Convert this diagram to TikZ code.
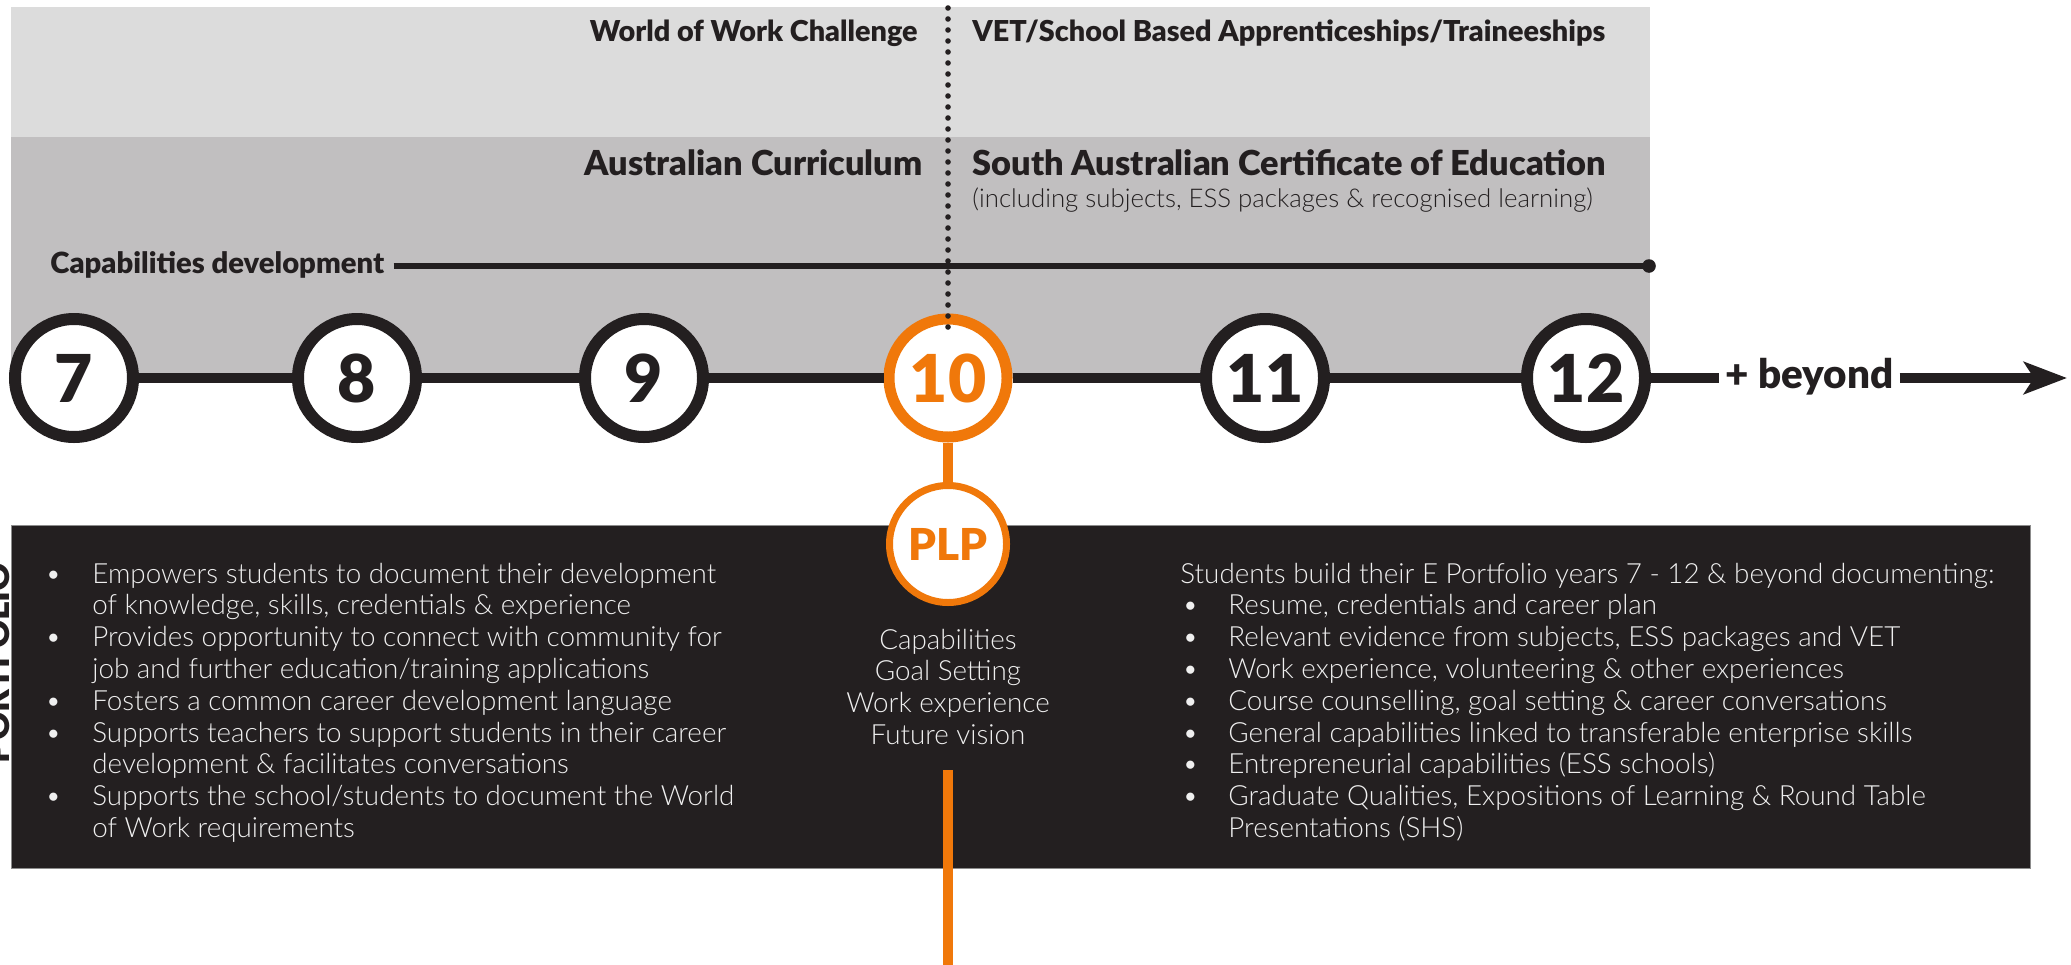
\documentclass[tikz,border=0pt]{standalone}
\usepackage{fontspec}
\setmainfont{Lato}
\newfontfamily\lightf{Lato Light}
\newfontfamily\heavyf{Lato Black}
\usetikzlibrary{arrows.meta}
\definecolor{ink}{HTML}{231F20}
\definecolor{bandlight}{HTML}{DCDCDC}
\definecolor{bandmid}{HTML}{C1BFC0}
\definecolor{orng}{HTML}{F0780A}
\definecolor{paper}{HTML}{EFEFEF}
\begin{document}
\begin{tikzpicture}[x=0.5pt,y=-0.5pt,
  yr/.style={circle, draw=ink, fill=white, line width=6pt, minimum size=59pt, inner sep=0pt,
    font=\heavyf\fontsize{33}{33}\selectfont, text=ink},
  yrhi/.style={yr, draw=orng, text=orng, line width=5.5pt},
  plpnode/.style={circle, draw=orng, fill=white, line width=3.5pt, minimum size=58.5pt, inner sep=0pt,
    font=\heavyf\fontsize{22}{22}\selectfont, text=orng},
  headA/.style={font=\heavyf\fontsize{14.4}{16}\selectfont, text=ink, inner sep=0pt},
  headB/.style={font=\heavyf\fontsize{17.2}{19}\selectfont, text=ink, inner sep=0pt},
  subtxt/.style={font=\lightf\fontsize{12.9}{14}\selectfont, text=ink, inner sep=0pt},
  captxt/.style={font=\heavyf\fontsize{14.6}{16}\selectfont, text=ink, inner sep=0pt},
  beyondtxt/.style={font=\heavyf\fontsize{20.2}{22}\selectfont, text=ink, inner xsep=3pt, inner ysep=0pt},
  bodytxt/.style={font=\lightf\fontsize{13.9}{15.9}\selectfont, text=paper, inner sep=0pt},
  tl/.style={draw=ink, line width=5pt},
  orline/.style={draw=orng, line width=5pt},
]
\useasboundingbox (0,0) rectangle (2071,964);
\fill[white] (0,0) rectangle (2071,964);
\begin{scope}
\clip (0,0) rectangle (2071,964);

% bands
\fill[bandlight] (11,7) rectangle (1650,137);
\fill[bandmid] (11,137) rectangle (1650,378);

% headings
\node[headA, anchor=base east] (wow) at (918,41) {World of Work Challenge};
\node[headA, anchor=base west] (vet) at (972,41) {VET/School Based Apprenticeships/Traineeships};
\node[headB, anchor=base east] (ac) at (923,175) {Australian Curriculum};
\node[headB, anchor=base west] (sace) at (972,175) {South Australian Certificate of Education};
\node[subtxt, anchor=base west] (incl) at (972,207) {(including subjects, ESS packages \& recognised learning)};

% capabilities development
\node[captxt, anchor=base west] (capdev) at (50,273) {Capabilities development};
\coordinate (capend) at (1649,266);
\draw[draw=ink, line width=3.2pt] ([xshift=4.5pt]capdev.east |- capend) -- (capend);
\fill[ink] (capend) circle (3.4pt);

% dark box
\fill[ink, draw=black!45, line width=0.5pt] (11,525) rectangle (2030,868);

% side label (cut at page edge, as in the original)
\node[font=\heavyf\fontsize{17.5}{18}\selectfont, text=ink, rotate=90, anchor=base, inner sep=0pt] (portf) at (10,663) {PORTFOLIO};

% year circles
\node[yr] (c7) at (74,378) {7};
\node[yr] (c8) at (357,378) {8};
\node[yr] (c9) at (644,378) {9};
\node[yrhi] (c10) at (948,378) {10};
\node[yr] (c11) at (1265,378) {11};
\node[yr] (c12) at (1586,378) {12};

% timeline
\draw[tl] (c7) -- (c8);
\draw[tl] (c8) -- (c9);
\draw[tl] (c9) -- (c10);
\draw[tl] (c10) -- (c11);
\draw[tl] (c11) -- (c12);
\node[beyondtxt, anchor=base west] (beyond) at (1719,388) {+ beyond};
\coordinate (tip) at (2067,378);
\draw[tl] (c12) -- (beyond.west |- c12.center);
\draw[tl, -{Stealth[length=21.5pt, width=16pt, inset=5pt]}] (beyond.east |- c12.center) -- (tip);

% dotted divider
\coordinate (dtop) at (948,8);
\coordinate (dbot) at (948,332);
\draw[draw=ink, line width=2.8pt, line cap=round, dash pattern=on 0pt off 5.5pt] (dtop) -- (dbot);

% PLP
\node[plpnode] (plp) at (948,544) {PLP};
\draw[orline] (c10) -- (plp);
\coordinate (otop) at (948,770);
\coordinate (obot) at (948,970);
\draw[orline] (otop) -- (obot);

% body texts
\node[bodytxt, anchor=base west] (leftlist) at (45,583) {\begin{tabular}[t]{@{}p{23.5pt}@{}l@{}}
\textbullet & Empowers students to document their development\\
 & of knowledge, skills, credentials \& experience\\
\textbullet & Provides opportunity to connect with community for\\
 & job and further education/training applications\\
\textbullet & Fosters a common career development language\\
\textbullet & Supports teachers to support students in their career\\
 & development \& facilitates conversations\\
\textbullet & Supports the school/students to document the World\\
 & of Work requirements
\end{tabular}};

\node[bodytxt, anchor=base] (plpitems) at (948,649) {\begin{tabular}[t]{@{}c@{}}
Capabilities\\ Goal Setting\\ Work experience\\ Future vision
\end{tabular}};

\node[bodytxt, anchor=base west] (rightlist) at (1180,583) {\begin{tabular}[t]{@{}p{24pt}@{}l@{}}
\multicolumn{2}{@{}l@{}}{Students build their E Portfolio years 7 - 12 \& beyond documenting:}\\
\hspace{1pt}\textbullet & Resume, credentials and career plan\\
\hspace{1pt}\textbullet & Relevant evidence from subjects, ESS packages and VET\\
\hspace{1pt}\textbullet & Work experience, volunteering \& other experiences\\
\hspace{1pt}\textbullet & Course counselling, goal setting \& career conversations\\
\hspace{1pt}\textbullet & General capabilities linked to transferable enterprise skills\\
\hspace{1pt}\textbullet & Entrepreneurial capabilities (ESS schools)\\
\hspace{1pt}\textbullet & Graduate Qualities, Expositions of Learning \& Round Table\\
 & Presentations (SHS)
\end{tabular}};
\end{scope}
\end{tikzpicture}
\end{document}
